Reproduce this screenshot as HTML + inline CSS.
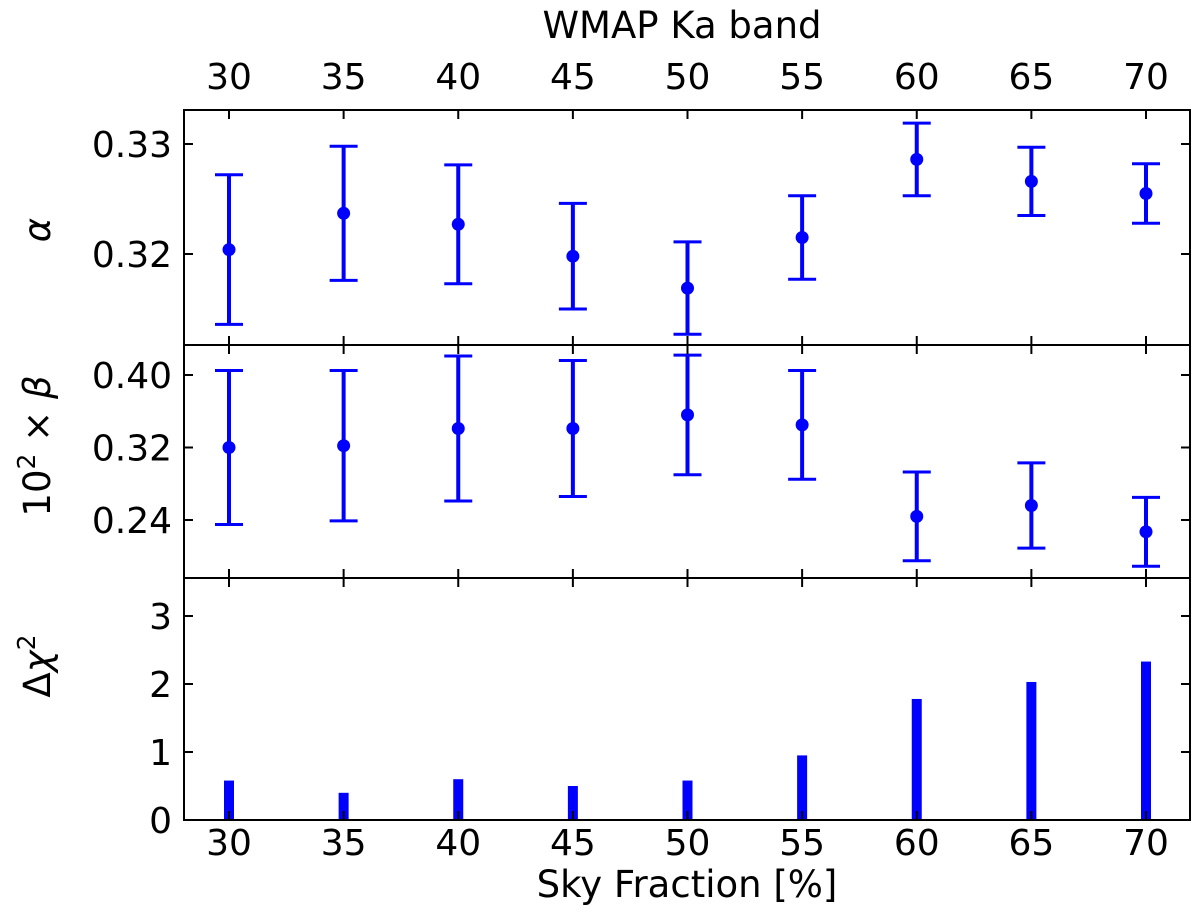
<!DOCTYPE html>
<html><head><meta charset="utf-8"><style>
body{margin:0;background:#fff}
svg text{font-family:"DejaVu Sans","Liberation Sans",sans-serif;fill:#000}
</style></head><body>
<div style="position:relative;width:1200px;height:919px">
<svg id="chart" width="1200" height="919" xmlns="http://www.w3.org/2000/svg" style="position:absolute;left:0;top:0"></svg>
<svg width="1200" height="919" xmlns="http://www.w3.org/2000/svg" style="position:absolute;left:0;top:0">
<text x="682" y="38" font-size="37" text-anchor="middle">WMAP Ka band</text>
<text x="687" y="897" font-size="37" text-anchor="middle">Sky Fraction [%]</text>
<text transform="translate(50,230) rotate(-90)" font-size="37" font-style="italic" text-anchor="middle">α</text>
<text transform="translate(50,446) rotate(-90)" font-size="37" text-anchor="middle">10<tspan dy="-15" font-size="25">2</tspan><tspan dy="15"> × </tspan><tspan font-style="italic">β</tspan></text>
<text transform="translate(50,666) rotate(-90)" font-size="37" text-anchor="middle">Δ<tspan font-style="italic">χ</tspan><tspan dy="-15" font-size="25">2</tspan></text>
</svg>
</div>
<script>
const skyFractions=[30,35,40,45,50,55,60,65,70];
const alphaValues=[0.3204,0.3237,0.3227,0.3198,0.3169,0.3215,0.3286,0.3266,0.3255];
const alphaErrors=[0.0068,0.0061,0.0054,0.0048,0.0042,0.0038,0.0033,0.0031,0.0027];
const betaValues=[0.320,0.322,0.341,0.341,0.356,0.345,0.244,0.256,0.227];
const betaErrors=[0.085,0.083,0.080,0.075,0.066,0.060,0.049,0.047,0.038];
const chi2Values=[0.58,0.40,0.60,0.50,0.58,0.95,1.78,2.03,2.33];
const xTicks=[30,35,40,45,50,55,60,65,70];
const alphaTicks=[0.32,0.33];
const betaTicks=[0.24,0.32,0.40];
const chiTicks=[0,1,2,3];
const NS="http://www.w3.org/2000/svg";
const svg=document.getElementById('chart');
function el(t,a,p){const e=document.createElementNS(NS,t);for(const k in a)e.setAttribute(k,a[k]);(p||svg).appendChild(e);return e;}
const L=184,R=1190;
const X=v=>229+(v-30)*(1146-229)/40;
const panels=[
 {top:110,bot:345,y0:0.32,py0:254,y1:0.33,py1:144,ticks:alphaTicks,fmt:v=>v.toFixed(2),name:'alpha'},
 {top:345,bot:578,y0:0.24,py0:520,y1:0.40,py1:375,ticks:betaTicks,fmt:v=>v.toFixed(2),name:'beta'},
 {top:578,bot:820,y0:0,py0:820,y1:3,py1:616,ticks:chiTicks,fmt:v=>String(v),name:'chi2'}];
panels.forEach(p=>{p.Y=v=>p.py0+(v-p.y0)*(p.py1-p.py0)/(p.y1-p.y0);});
panels.forEach((p,pi)=>{
 const g=el('g',{});
 
 
 if(pi<2){
  const vals=pi==0?alphaValues:betaValues, errs=pi==0?alphaErrors:betaErrors;
  skyFractions.forEach((f,i)=>{
   const x=X(f),yt=p.Y(vals[i]+errs[i]),yb=p.Y(vals[i]-errs[i]),yc=p.Y(vals[i]);
   el('line',{x1:x,x2:x,y1:yt,y2:yb,stroke:'#0000ff','stroke-width':4},g);
   el('line',{x1:x-14,x2:x+14,y1:yt,y2:yt,stroke:'#0000ff','stroke-width':3},g);
   el('line',{x1:x-14,x2:x+14,y1:yb,y2:yb,stroke:'#0000ff','stroke-width':3},g);
   const c=el('circle',{cx:x,cy:yc,r:6.5,fill:'#0000ff'},g);
   
   
  });
 } else {
  skyFractions.forEach((f,i)=>{
   const x=X(f),y=p.Y(chi2Values[i]);
   const r=el('rect',{x:x-5,y:y,width:10,height:p.Y(0)-y,fill:'#0000ff'},g);
   
   
  });
 }
 el('rect',{x:L,y:p.top,width:R-L,height:p.bot-p.top,fill:'none',stroke:'#000','stroke-width':2},g);
 p.ticks.forEach(t=>{const y=p.Y(t);
  el('line',{x1:L,x2:L+9,y1:y,y2:y,stroke:'#000','stroke-width':2},g);
  el('line',{x1:R-9,x2:R,y1:y,y2:y,stroke:'#000','stroke-width':2},g);
  const tx=el('text',{x:L-12,y:y+13,'font-size':36,'text-anchor':'end'},g);tx.textContent=p.fmt(t);
 });
 xTicks.forEach(t=>{const x=X(t);
  el('line',{x1:x,x2:x,y1:p.bot,y2:p.bot-9,stroke:'#000','stroke-width':2},g);
  el('line',{x1:x,x2:x,y1:p.top,y2:p.top+9,stroke:'#000','stroke-width':2},g);
 });
});
xTicks.forEach(t=>{
 const a=el('text',{x:X(t),y:855,'font-size':36,'text-anchor':'middle'});a.textContent=t;
 const b=el('text',{x:X(t),y:89,'font-size':36,'text-anchor':'middle'});b.textContent=t;
});
</script>
</body></html>
